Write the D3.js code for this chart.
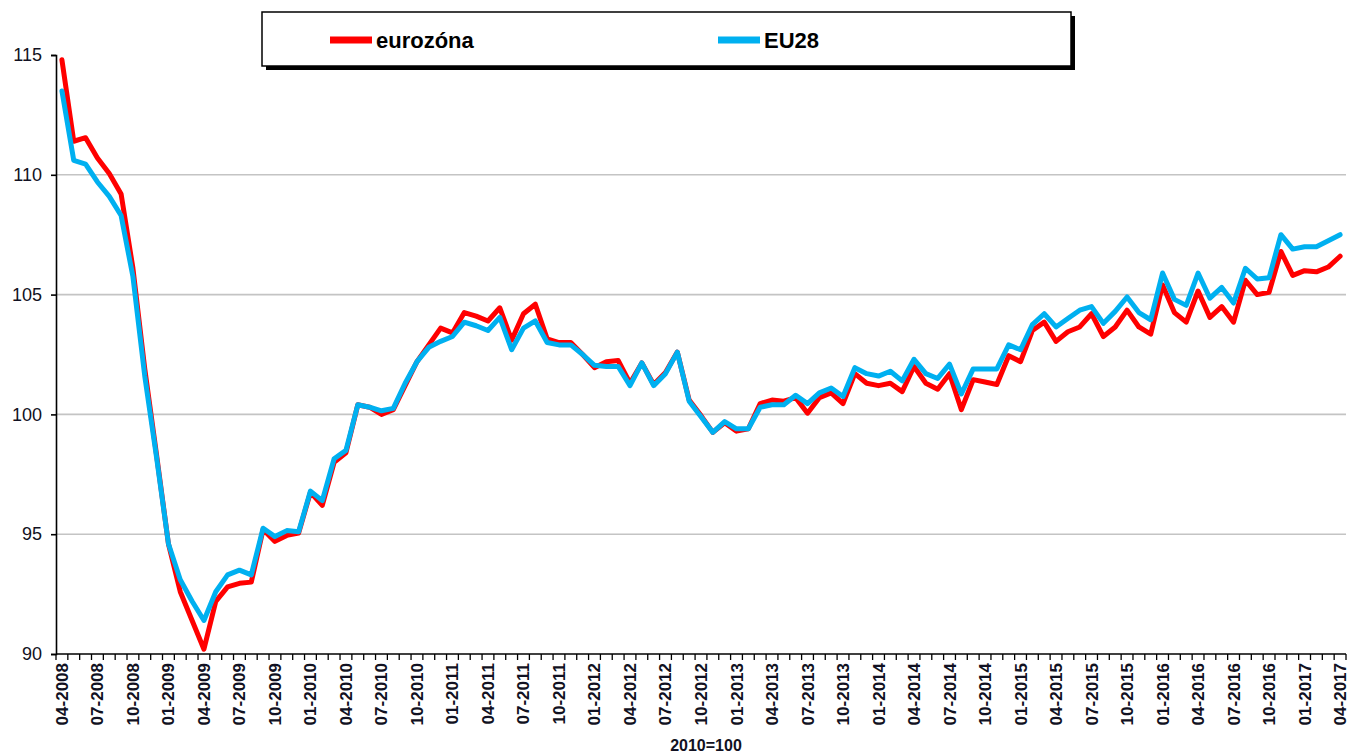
<!DOCTYPE html>
<html>
<head>
<meta charset="utf-8">
<script src="https://cdn.jsdelivr.net/npm/d3@7/dist/d3.min.js"></script>
<style>
  html, body { margin: 0; padding: 0; background: #ffffff; }
  svg { display: block; }
</style>
</head>
<body>
<svg id="chart" width="1349" height="754"></svg>
<script>
// ---------------- DATA ----------------
const years = [2008, 2009, 2010, 2011, 2012, 2013, 2014, 2015, 2016, 2017];
const monthCodes = ["01","02","03","04","05","06","07","08","09","10","11","12"];
const startLabel = "04-2008";
const endLabel = "04-2017";

const tickLabels = [
  "04-2008","07-2008","10-2008",
  "01-2009","04-2009","07-2009","10-2009",
  "01-2010","04-2010","07-2010","10-2010",
  "01-2011","04-2011","07-2011","10-2011",
  "01-2012","04-2012","07-2012","10-2012",
  "01-2013","04-2013","07-2013","10-2013",
  "01-2014","04-2014","07-2014","10-2014",
  "01-2015","04-2015","07-2015","10-2015",
  "01-2016","04-2016","07-2016","10-2016",
  "01-2017","04-2017"
];

const yTicks = [90, 95, 100, 105, 110, 115];
const gridValues = [95, 100, 105, 110];

const seriesNames = ["eurozóna", "EU28"];

const eurozona = [
  114.8, 111.4, 111.55, 110.7, 110.05, 109.2, 106.1, 101.9, 98.3,
  94.6, 92.6, 91.4, 90.2, 92.2, 92.8, 92.95, 93.0, 95.2, 94.7, 94.95, 95.05,
  96.75, 96.2, 98.0, 98.4, 100.4, 100.3, 100.0, 100.2, 101.2, 102.2, 102.9, 103.6,
  103.4, 104.25, 104.1, 103.9, 104.45, 103.1, 104.2, 104.6, 103.15, 103.0, 103.0, 102.5,
  101.95, 102.2, 102.25, 101.3, 102.15, 101.25, 101.75, 102.6, 100.6, 99.95, 99.25, 99.65,
  99.3, 99.4, 100.45, 100.6, 100.55, 100.7, 100.05, 100.7, 100.9, 100.45, 101.7, 101.3,
  101.2, 101.3, 100.95, 102.0, 101.3, 101.05, 101.7, 100.2, 101.45, 101.35, 101.25, 102.45,
  102.2, 103.5, 103.85, 103.05, 103.45, 103.65, 104.2, 103.25, 103.65, 104.35, 103.65, 103.35,
  105.4, 104.25, 103.85, 105.15, 104.05, 104.5, 103.85, 105.6, 105.0, 105.1, 106.8, 105.8,
  106.0, 105.95, 106.15, 106.6
];

const eu28 = [
  113.5, 110.6, 110.45, 109.7, 109.1, 108.3, 105.75, 101.6, 98.2,
  94.6, 93.1, 92.2, 91.4, 92.6, 93.3, 93.5, 93.3, 95.25, 94.9, 95.15, 95.1,
  96.8, 96.4, 98.15, 98.5, 100.4, 100.3, 100.15, 100.25, 101.3, 102.2, 102.8, 103.05,
  103.25, 103.85, 103.7, 103.5, 104.05, 102.7, 103.6, 103.9, 103.0, 102.9, 102.9, 102.5,
  102.05, 102.0, 102.0, 101.2, 102.15, 101.2, 101.7, 102.6, 100.55, 99.9, 99.25, 99.7,
  99.4, 99.4, 100.3, 100.4, 100.4, 100.8, 100.45, 100.9, 101.1, 100.75, 101.95, 101.7,
  101.6, 101.8, 101.4, 102.3, 101.7, 101.5, 102.1, 100.85, 101.9, 101.9, 101.9, 102.9,
  102.7, 103.75, 104.2, 103.65, 104.0, 104.35, 104.5, 103.8, 104.3, 104.9, 104.25, 103.95,
  105.9, 104.8, 104.55, 105.9, 104.85, 105.3, 104.65, 106.1, 105.65, 105.7, 107.5, 106.9,
  107.0, 107.0, 107.25, 107.5
];

// build month categories (labels only)
const allMonths = [];
years.forEach(yr => monthCodes.forEach(m => allMonths.push(m + "-" + yr)));
const months = allMonths.slice(allMonths.indexOf(startLabel), allMonths.indexOf(endLabel) + 1);

// ---------------- LAYOUT ----------------
(function draw() {
  const svg = d3.select("#chart");
  const mLeft = 56, mRight = 1346, mTop = 55, mBottom = 654;

  const x = d3.scaleBand().domain(months).range([mLeft, mRight]).padding(0);
  const y = d3.scaleLinear().domain([90, 115]).range([mBottom, mTop]);
  const bw = x.bandwidth();

  // gridlines
  svg.append("g").selectAll("line").data(gridValues).join("line")
    .attr("x1", mLeft).attr("x2", mRight)
    .attr("y1", d => y(d)).attr("y2", d => y(d))
    .attr("stroke", "#c4c4c4").attr("stroke-width", 1.6);

  // lines
  const line = d3.line()
    .x((d, i) => x(months[i]) + bw / 2)
    .y(d => y(d));

  const colors = ["#ff0000", "#00b0f0"];
  [eurozona, eu28].forEach((s, k) => {
    svg.append("path").datum(s)
      .attr("d", line)
      .attr("fill", "none")
      .attr("stroke", colors[k])
      .attr("stroke-width", 5)
      .attr("stroke-linejoin", "round")
      .attr("stroke-linecap", "round");
  });

  // y axis
  const yAxis = svg.append("g").attr("transform", `translate(${mLeft},0)`)
    .call(d3.axisLeft(y).tickValues(yTicks).tickSize(5).tickPadding(9).tickFormat(d3.format("d")));
  yAxis.select(".domain").attr("stroke", "#000").attr("stroke-width", 1.6);
  yAxis.selectAll(".tick line").attr("stroke", "#000").attr("stroke-width", 1.6);
  yAxis.selectAll(".tick text")
    .attr("font-family", "Liberation Sans, Arial, sans-serif")
    .attr("font-size", 18)
    .attr("fill", "#111122");

  // x axis: ticks at band boundaries
  const xg = svg.append("g");
  xg.append("line").attr("x1", mLeft).attr("x2", mRight).attr("y1", mBottom).attr("y2", mBottom)
    .attr("stroke", "#000").attr("stroke-width", 1.6);
  const boundaries = months.map(m => x(m)).concat([x(months[months.length - 1]) + bw]);
  xg.selectAll("line.tk").data(boundaries).join("line").attr("class", "tk")
    .attr("x1", d => d).attr("x2", d => d)
    .attr("y1", mBottom).attr("y2", mBottom + 6)
    .attr("stroke", "#000").attr("stroke-width", 1.3);

  xg.selectAll("text.xl").data(tickLabels).join("text").attr("class", "xl")
    .attr("transform", d => `translate(${x(d) + bw / 2 + 6},${mBottom + 9}) rotate(-90)`)
    .attr("text-anchor", "end")
    .attr("font-family", "Liberation Sans, Arial, sans-serif")
    .attr("font-size", 17)
    .attr("font-weight", "bold")
    .attr("fill", "#111122")
    .text(d => d);

  // axis title
  svg.append("text")
    .attr("x", 706).attr("y", 751)
    .attr("text-anchor", "middle")
    .attr("font-family", "Liberation Sans, Arial, sans-serif")
    .attr("font-size", 16)
    .attr("font-weight", "bold")
    .attr("fill", "#111122")
    .text("2010=100");

  // legend
  const lg = svg.append("g");
  lg.append("rect").attr("x", 266).attr("y", 16).attr("width", 809).attr("height", 54).attr("fill", "#000");
  lg.append("rect").attr("x", 262).attr("y", 12).attr("width", 809).attr("height", 54)
    .attr("fill", "#fff").attr("stroke", "#000").attr("stroke-width", 1.5);
  const legX = [330, 718];
  seriesNames.forEach((n, k) => {
    lg.append("line").attr("x1", legX[k]).attr("x2", legX[k] + 42).attr("y1", 40).attr("y2", 40)
      .attr("stroke", colors[k]).attr("stroke-width", 7);
    lg.append("text").attr("x", legX[k] + 46).attr("y", 48)
      .attr("font-family", "Liberation Sans, Arial, sans-serif")
      .attr("font-size", 22)
      .attr("font-weight", "bold")
      .attr("fill", "#000")
      .text(n);
  });
})();
</script>
</body>
</html>
